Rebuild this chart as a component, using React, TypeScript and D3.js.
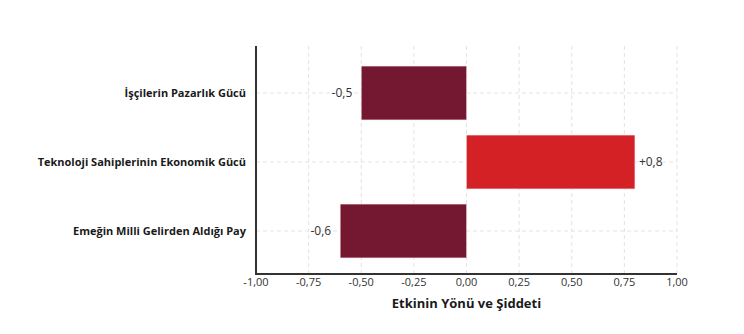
import React from "react";
import * as d3 from "d3";

const categories = ["İşçilerin Pazarlık Gücü", "Teknoloji Sahiplerinin Ekonomik Gücü", "Emeğin Milli Gelirden Aldığı Pay"];
const values = [-0.5, 0.8, -0.6];
const valueLabels = ["-0,5", "+0,8", "-0,6"];
const xTicks = [-1, -0.75, -0.5, -0.25, 0, 0.25, 0.5, 0.75, 1];
const xLabel = "Etkinin Yönü ve Şiddeti";

const W = 744, H = 334;
const left = 256, right = 677, top = 46, bottom = 274;
const FONT = "'Open Sans', sans-serif";

export default function App() {
  const x = d3.scaleLinear().domain([-1, 1]).range([left, right]);
  const y = d3.scaleBand<string>().domain(categories).range([58.5, 265.5]).paddingInner(0.22).paddingOuter(0.11);
  const fmt = (v: number) => d3.format(".2f")(v).replace(".", ",").replace("−", "-");
  return (
    <svg width={W} height={H} style={{ position: "absolute", left: 0, top: 0, background: "#fff" }}>
      {xTicks.map((t) => (
        <line key={"gx" + t} x1={x(t)} x2={x(t)} y1={top} y2={bottom} stroke="#dcdcdc" strokeWidth={0.8} strokeDasharray="4,3" />
      ))}
      {categories.map((c) => (
        <line key={"gy" + c} x1={left} x2={right} y1={y(c)! + y.bandwidth() / 2} y2={y(c)! + y.bandwidth() / 2} stroke="#dcdcdc" strokeWidth={0.8} strokeDasharray="4,3" />
      ))}
      {categories.map((c, i) => {
        const v = values[i];
        const x0 = x(Math.min(0, v));
        const x1 = x(Math.max(0, v));
        return (
          <rect key={c} x={x0} y={y(c)!} width={x1 - x0} height={y.bandwidth()} fill={v < 0 ? "#731830" : "#D42126"} stroke="#f0d0d6" strokeWidth={0.5} />
        );
      })}
      {categories.map((c, i) => {
        const v = values[i];
        const cy = y(c)! + y.bandwidth() / 2;
        return (
          <text key={"v" + c} x={v < 0 ? x(v) - 9 : x(v) + 4} y={cy} dy="0.35em" textAnchor={v < 0 ? "end" : "start"} fontFamily={FONT} fontSize={12} fill="#333">
            {valueLabels[i]}
          </text>
        );
      })}
      {categories.map((c) => (
        <text key={"l" + c} x={left - 10} y={y(c)! + y.bandwidth() / 2} dy="0.35em" textAnchor="end" fontFamily={FONT} fontSize={11} fontWeight={700} fill="#1a1a1a">
          {c}
        </text>
      ))}
      <line x1={left} x2={left} y1={top} y2={bottom + 1} stroke="#333" strokeWidth={2} />
      <line x1={left - 1} x2={right} y1={bottom} y2={bottom} stroke="#333" strokeWidth={2} />
      {xTicks.map((t) => (
        <text key={"t" + t} x={x(t)} y={286} textAnchor="middle" fontFamily={FONT} fontSize={11} fill="#333">
          {fmt(t)}
        </text>
      ))}
      <text x={(left + right) / 2} y={308} textAnchor="middle" fontFamily={FONT} fontSize={13} fontWeight={700} fill="#1a1a1a">
        {xLabel}
      </text>
    </svg>
  );
}
